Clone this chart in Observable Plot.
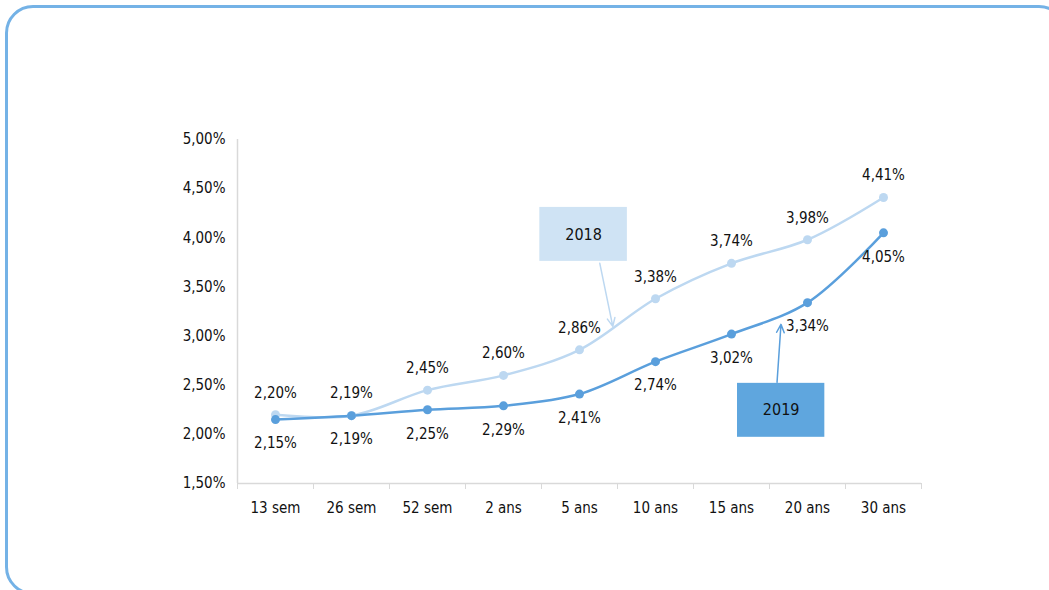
<!DOCTYPE html>
<html>
<head>
<meta charset="utf-8">
<script src="https://cdn.jsdelivr.net/npm/d3@7"></script>
<script src="https://cdn.jsdelivr.net/npm/@observablehq/plot@0.6"></script>
<style>
  html, body { margin: 0; padding: 0; background: #fff; overflow: hidden; }
  #wrap { position: relative; width: 1049px; height: 590px; overflow: hidden; }
  #frame { position: absolute; left: 5px; top: 5px; width: 1062px; height: 590px;
           border: 3px solid #74b2e6; border-radius: 28px; box-sizing: border-box; }
  #chart { position: absolute; left: 0; top: 0; }
</style>
</head>
<body>
<div id="wrap"><div id="frame"></div><div id="chart"></div></div>
<script>
const categories = ["13 sem", "26 sem", "52 sem", "2 ans", "5 ans", "10 ans", "15 ans", "20 ans", "30 ans"];
const values2018 = [2.20, 2.19, 2.45, 2.60, 2.86, 3.38, 3.74, 3.98, 4.41];
const values2019 = [2.15, 2.19, 2.25, 2.29, 2.41, 2.74, 3.02, 3.34, 4.05];
const yTicks = [1.5, 2.0, 2.5, 3.0, 3.5, 4.0, 4.5, 5.0];

// annotation boxes and arrows (data coordinates: x = category index, y = rate)
const boxLabels = ["2018", "2019"];
const boxX1 = [3.478, 6.079];
const boxX2 = [4.630, 7.228];
const boxY1 = [3.760, 1.970];
const boxY2 = [4.309, 2.519];
const arrowX1 = [4.267, 6.599];
const arrowY1 = [3.740, 2.529];
const arrowX2 = [4.438, 6.651];
const arrowY2 = [3.099, 3.119];

const c2018 = "#bdd8f1";
const c2019 = "#5a9fdc";
const boxFill = ["#cfe3f4", "#5fa6de"];
const arrowColor = ["#bdd8f1", "#5a9fdc"];
const ink = "#111";

const fmt = v => v.toFixed(2).replace(".", ",") + "%";

const s2018 = values2018.map((v, i) => ({i, v}));
const s2019 = values2019.map((v, i) => ({i, v}));
const boxes = boxLabels.map((t, k) => ({t, x1: boxX1[k], x2: boxX2[k], y1: boxY1[k], y2: boxY2[k], fill: boxFill[k]}));
const arrows = boxLabels.map((t, k) => ({x1: arrowX1[k], y1: arrowY1[k], x2: arrowX2[k], y2: arrowY2[k], stroke: arrowColor[k]}));

const chart = Plot.plot({
  width: 1049,
  height: 590,
  marginLeft: 237,
  marginRight: 128,
  marginTop: 139,
  marginBottom: 107,
  style: {fontFamily: "'DejaVu Sans Condensed', 'DejaVu Sans', sans-serif", fontSize: "15px", color: ink, background: "transparent"},
  x: {domain: [-0.5, 8.5]},
  y: {domain: [1.5, 5]},
  marks: [
    Plot.axisY({ticks: yTicks, tickSize: 0, tickPadding: 12, tickFormat: fmt, fontSize: 15, fill: ink}),
    Plot.axisX({ticks: d3.range(9), tickSize: 0, tickPadding: 19, tickFormat: i => categories[i], fontSize: 15, fill: ink}),
    Plot.axisX({ticks: d3.range(-0.5, 9, 1), tickSize: 6, tickFormat: () => "", stroke: "#d9d9d9"}),
    Plot.ruleY([1.5], {stroke: "#d9d9d9", strokeWidth: 1.5}),
    Plot.ruleX([-0.5], {stroke: "#d9d9d9", strokeWidth: 1.5}),
    Plot.line(s2018, {x: "i", y: "v", stroke: c2018, strokeWidth: 2.5, curve: "catmull-rom"}),
    Plot.line(s2019, {x: "i", y: "v", stroke: c2019, strokeWidth: 2.5, curve: "catmull-rom"}),
    Plot.dot(s2018, {x: "i", y: "v", fill: c2018, r: 4.5}),
    Plot.dot(s2019, {x: "i", y: "v", fill: c2019, r: 4.5}),
    Plot.text(s2018, {x: "i", y: "v", text: d => fmt(d.v), dy: -22, fontSize: 15, fill: ink}),
    Plot.text(s2019, {x: "i", y: "v", text: d => fmt(d.v), dy: 24, fontSize: 15, fill: ink}),
    Plot.rect(boxes, {x1: "x1", x2: "x2", y1: "y1", y2: "y2", fill: "fill"}),
    Plot.text(boxes, {x: d => (d.x1 + d.x2) / 2, y: d => (d.y1 + d.y2) / 2, text: "t", fontSize: 16, fill: ink}),
    Plot.arrow(arrows, {x1: "x1", y1: "y1", x2: "x2", y2: "y2", stroke: "stroke", strokeWidth: 1.5, headLength: 9, headAngle: 50})
  ]
});
document.getElementById("chart").appendChild(chart);
</script>
</body>
</html>
